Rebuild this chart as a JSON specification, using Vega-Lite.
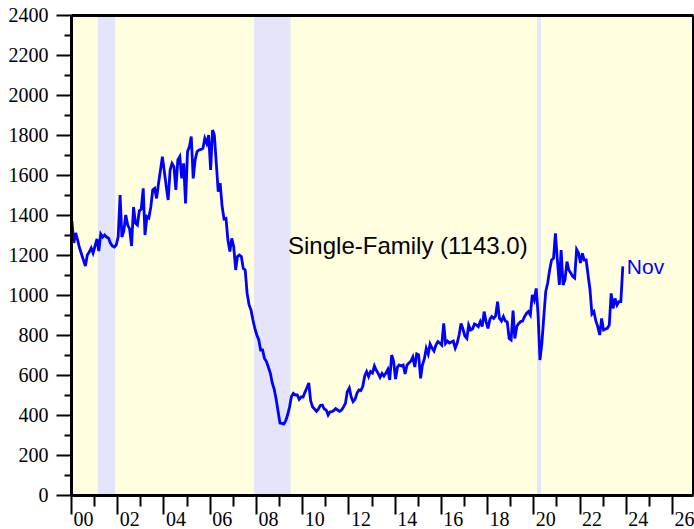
{
"$schema": "https://vega.github.io/schema/vega-lite/v6.json",
"width": 622, "height": 480, "autosize": "none",
"padding": {"left": 71, "top": 15, "right": 1, "bottom": 34},
"background": "white",
"config": {"view": {"stroke": null, "fill": "#FFFFE0"}},
"datasets": {
"recessions": [
{"start": "2001-03-01", "end": "2001-11-30"},
{"start": "2007-12-01", "end": "2009-06-30"},
{"start": "2020-03-01", "end": "2020-04-30"}
],
"starts": [
{"date":"2000-01-15","value":1370},{"date":"2000-02-15","value":1260},{"date":"2000-03-15","value":1310},{"date":"2000-04-15","value":1275},{"date":"2000-05-15","value":1235},{"date":"2000-06-15","value":1205},{"date":"2000-07-15","value":1175},{"date":"2000-08-15","value":1145},{"date":"2000-09-15","value":1200},{"date":"2000-10-15","value":1215},{"date":"2000-11-15","value":1235},{"date":"2000-12-15","value":1210},
{"date":"2001-01-15","value":1245},{"date":"2001-02-15","value":1280},{"date":"2001-03-15","value":1220},{"date":"2001-04-15","value":1305},{"date":"2001-05-15","value":1290},{"date":"2001-06-15","value":1300},{"date":"2001-07-15","value":1290},{"date":"2001-08-15","value":1285},{"date":"2001-09-15","value":1260},{"date":"2001-10-15","value":1245},{"date":"2001-11-15","value":1240},{"date":"2001-12-15","value":1250},
{"date":"2002-01-15","value":1290},{"date":"2002-02-15","value":1500},{"date":"2002-03-15","value":1290},{"date":"2002-04-15","value":1320},{"date":"2002-05-15","value":1400},{"date":"2002-06-15","value":1350},{"date":"2002-07-15","value":1330},{"date":"2002-08-15","value":1245},{"date":"2002-09-15","value":1440},{"date":"2002-10-15","value":1360},{"date":"2002-11-15","value":1350},{"date":"2002-12-15","value":1420},
{"date":"2003-01-15","value":1430},{"date":"2003-02-15","value":1533},{"date":"2003-03-15","value":1300},{"date":"2003-04-15","value":1392},{"date":"2003-05-15","value":1385},{"date":"2003-06-15","value":1440},{"date":"2003-07-15","value":1525},{"date":"2003-08-15","value":1533},{"date":"2003-09-15","value":1483},{"date":"2003-10-15","value":1558},{"date":"2003-11-15","value":1625},{"date":"2003-12-15","value":1692},
{"date":"2004-01-15","value":1617},{"date":"2004-02-15","value":1540},{"date":"2004-03-15","value":1475},{"date":"2004-04-15","value":1625},{"date":"2004-05-15","value":1658},{"date":"2004-06-15","value":1642},{"date":"2004-07-15","value":1525},{"date":"2004-08-15","value":1675},{"date":"2004-09-15","value":1692},{"date":"2004-10-15","value":1583},{"date":"2004-11-15","value":1658},{"date":"2004-12-15","value":1458},
{"date":"2005-01-15","value":1717},{"date":"2005-02-15","value":1742},{"date":"2005-03-15","value":1792},{"date":"2005-04-15","value":1583},{"date":"2005-05-15","value":1675},{"date":"2005-06-15","value":1717},{"date":"2005-07-15","value":1725},{"date":"2005-08-15","value":1728},{"date":"2005-09-15","value":1733},{"date":"2005-10-15","value":1783},{"date":"2005-11-15","value":1758},{"date":"2005-12-15","value":1800},
{"date":"2006-01-15","value":1625},{"date":"2006-02-15","value":1825},{"date":"2006-03-15","value":1800},{"date":"2006-04-15","value":1658},{"date":"2006-05-15","value":1517},{"date":"2006-06-15","value":1560},{"date":"2006-07-15","value":1445},{"date":"2006-08-15","value":1380},{"date":"2006-09-15","value":1383},{"date":"2006-10-15","value":1275},{"date":"2006-11-15","value":1217},{"date":"2006-12-15","value":1283},
{"date":"2007-01-15","value":1242},{"date":"2007-02-15","value":1125},{"date":"2007-03-15","value":1192},{"date":"2007-04-15","value":1200},{"date":"2007-05-15","value":1192},{"date":"2007-06-15","value":1133},{"date":"2007-07-15","value":1125},{"date":"2007-08-15","value":1008},{"date":"2007-09-15","value":950},{"date":"2007-10-15","value":925},{"date":"2007-11-15","value":875},{"date":"2007-12-15","value":833},
{"date":"2008-01-15","value":800},{"date":"2008-02-15","value":775},{"date":"2008-03-15","value":725},{"date":"2008-04-15","value":725},{"date":"2008-05-15","value":683},{"date":"2008-06-15","value":667},{"date":"2008-07-15","value":640},{"date":"2008-08-15","value":610},{"date":"2008-09-15","value":560},{"date":"2008-10-15","value":530},{"date":"2008-11-15","value":480},{"date":"2008-12-15","value":420},
{"date":"2009-01-15","value":360},{"date":"2009-02-15","value":358},{"date":"2009-03-15","value":355},{"date":"2009-04-15","value":370},{"date":"2009-05-15","value":400},{"date":"2009-06-15","value":440},{"date":"2009-07-15","value":492},{"date":"2009-08-15","value":508},{"date":"2009-09-15","value":500},{"date":"2009-10-15","value":500},{"date":"2009-11-15","value":478},{"date":"2009-12-15","value":490},
{"date":"2010-01-15","value":490},{"date":"2010-02-15","value":515},{"date":"2010-03-15","value":535},{"date":"2010-04-15","value":560},{"date":"2010-05-15","value":470},{"date":"2010-06-15","value":440},{"date":"2010-07-15","value":430},{"date":"2010-08-15","value":418},{"date":"2010-09-15","value":430},{"date":"2010-10-15","value":448},{"date":"2010-11-15","value":450},{"date":"2010-12-15","value":430},
{"date":"2011-01-15","value":425},{"date":"2011-02-15","value":400},{"date":"2011-03-15","value":415},{"date":"2011-04-15","value":417},{"date":"2011-05-15","value":422},{"date":"2011-06-15","value":432},{"date":"2011-07-15","value":425},{"date":"2011-08-15","value":418},{"date":"2011-09-15","value":425},{"date":"2011-10-15","value":440},{"date":"2011-11-15","value":458},{"date":"2011-12-15","value":517},
{"date":"2012-01-15","value":535},{"date":"2012-02-15","value":490},{"date":"2012-03-15","value":467},{"date":"2012-04-15","value":478},{"date":"2012-05-15","value":508},{"date":"2012-06-15","value":525},{"date":"2012-07-15","value":522},{"date":"2012-08-15","value":542},{"date":"2012-09-15","value":595},{"date":"2012-10-15","value":617},{"date":"2012-11-15","value":592},{"date":"2012-12-15","value":617},
{"date":"2013-01-15","value":610},{"date":"2013-02-15","value":645},{"date":"2013-03-15","value":625},{"date":"2013-04-15","value":608},{"date":"2013-05-15","value":588},{"date":"2013-06-15","value":608},{"date":"2013-07-15","value":595},{"date":"2013-08-15","value":610},{"date":"2013-09-15","value":628},{"date":"2013-10-15","value":575},{"date":"2013-11-15","value":700},{"date":"2013-12-15","value":670},
{"date":"2014-01-15","value":580},{"date":"2014-02-15","value":640},{"date":"2014-03-15","value":650},{"date":"2014-04-15","value":645},{"date":"2014-05-15","value":650},{"date":"2014-06-15","value":605},{"date":"2014-07-15","value":650},{"date":"2014-08-15","value":660},{"date":"2014-09-15","value":670},{"date":"2014-10-15","value":690},{"date":"2014-11-15","value":640},{"date":"2014-12-15","value":705},
{"date":"2015-01-15","value":700},{"date":"2015-02-15","value":583},{"date":"2015-03-15","value":650},{"date":"2015-04-15","value":680},{"date":"2015-05-15","value":733},{"date":"2015-06-15","value":705},{"date":"2015-07-15","value":755},{"date":"2015-08-15","value":735},{"date":"2015-09-15","value":720},{"date":"2015-10-15","value":750},{"date":"2015-11-15","value":767},{"date":"2015-12-15","value":760},
{"date":"2016-01-15","value":750},{"date":"2016-02-15","value":858},{"date":"2016-03-15","value":758},{"date":"2016-04-15","value":770},{"date":"2016-05-15","value":760},{"date":"2016-06-15","value":765},{"date":"2016-07-15","value":770},{"date":"2016-08-15","value":735},{"date":"2016-09-15","value":760},{"date":"2016-10-15","value":800},{"date":"2016-11-15","value":858},{"date":"2016-12-15","value":830},
{"date":"2017-01-15","value":795},{"date":"2017-02-15","value":783},{"date":"2017-03-15","value":850},{"date":"2017-04-15","value":825},{"date":"2017-05-15","value":830},{"date":"2017-06-15","value":855},{"date":"2017-07-15","value":850},{"date":"2017-08-15","value":842},{"date":"2017-09-15","value":867},{"date":"2017-10-15","value":842},{"date":"2017-11-15","value":917},{"date":"2017-12-15","value":867},
{"date":"2018-01-15","value":833},{"date":"2018-02-15","value":880},{"date":"2018-03-15","value":892},{"date":"2018-04-15","value":883},{"date":"2018-05-15","value":895},{"date":"2018-06-15","value":967},{"date":"2018-07-15","value":883},{"date":"2018-08-15","value":870},{"date":"2018-09-15","value":892},{"date":"2018-10-15","value":870},{"date":"2018-11-15","value":865},{"date":"2018-12-15","value":783},
{"date":"2019-01-15","value":775},{"date":"2019-02-15","value":922},{"date":"2019-03-15","value":783},{"date":"2019-04-15","value":842},{"date":"2019-05-15","value":858},{"date":"2019-06-15","value":867},{"date":"2019-07-15","value":870},{"date":"2019-08-15","value":892},{"date":"2019-09-15","value":908},{"date":"2019-10-15","value":917},{"date":"2019-11-15","value":900},{"date":"2019-12-15","value":1000},
{"date":"2020-01-15","value":975},{"date":"2020-02-15","value":1033},{"date":"2020-03-15","value":910},{"date":"2020-04-15","value":675},{"date":"2020-05-15","value":758},{"date":"2020-06-15","value":892},{"date":"2020-07-15","value":1017},{"date":"2020-08-15","value":1060},{"date":"2020-09-15","value":1125},{"date":"2020-10-15","value":1175},{"date":"2020-11-15","value":1183},{"date":"2020-12-15","value":1308},
{"date":"2021-01-15","value":1175},{"date":"2021-02-15","value":1050},{"date":"2021-03-15","value":1225},{"date":"2021-04-15","value":1050},{"date":"2021-05-15","value":1075},{"date":"2021-06-15","value":1167},{"date":"2021-07-15","value":1125},{"date":"2021-08-15","value":1110},{"date":"2021-09-15","value":1092},{"date":"2021-10-15","value":1085},{"date":"2021-11-15","value":1228},{"date":"2021-12-15","value":1210},
{"date":"2022-01-15","value":1160},{"date":"2022-02-15","value":1208},{"date":"2022-03-15","value":1175},{"date":"2022-04-15","value":1175},{"date":"2022-05-15","value":1100},{"date":"2022-06-15","value":1025},{"date":"2022-07-15","value":905},{"date":"2022-08-15","value":917},{"date":"2022-09-15","value":870},{"date":"2022-10-15","value":842},{"date":"2022-11-15","value":800},{"date":"2022-12-15","value":883},
{"date":"2023-01-15","value":825},{"date":"2023-02-15","value":830},{"date":"2023-03-15","value":833},{"date":"2023-04-15","value":850},{"date":"2023-05-15","value":1008},{"date":"2023-06-15","value":933},{"date":"2023-07-15","value":983},{"date":"2023-08-15","value":950},{"date":"2023-09-15","value":967},{"date":"2023-10-15","value":967},{"date":"2023-11-15","value":1143}
]
},
"layer": [
{
"data": {"name": "recessions"},
"mark": {"type": "rect", "color": "#E4E4FA"},
"encoding": {
"x": {"field": "start", "type": "temporal",
"scale": {"type": "utc", "domain": [{"year": 2000, "month": 1, "date": 1, "utc": true}, {"year": 2026, "month": 11, "date": 28, "utc": true}], "nice": false},
"axis": {"orient": "top", "labels": false, "ticks": false, "grid": false, "title": null, "domainColor": "black", "domainWidth": 3, "zindex": 2}},
"x2": {"field": "end"},
"y": {"datum": 0, "type": "quantitative", "scale": {"domain": [0, 2400], "nice": false},
"axis": {"orient": "right", "labels": false, "ticks": false, "grid": false, "title": null, "domainColor": "black", "domainWidth": 3, "zindex": 2}},
"y2": {"datum": 2400}
}
},
{
"data": {"name": "starts"},
"mark": {"type": "line", "color": "#0000FF", "strokeWidth": 2.8},
"encoding": {
"x": {"field": "date", "type": "temporal",
"axis": {"orient": "bottom", "title": null, "grid": false, "zindex": 2,
"values": [{"year":2000,"utc":true},{"year":2001,"utc":true},{"year":2002,"utc":true},{"year":2003,"utc":true},{"year":2004,"utc":true},{"year":2005,"utc":true},{"year":2006,"utc":true},{"year":2007,"utc":true},{"year":2008,"utc":true},{"year":2009,"utc":true},{"year":2010,"utc":true},{"year":2011,"utc":true},{"year":2012,"utc":true},{"year":2013,"utc":true},{"year":2014,"utc":true},{"year":2015,"utc":true},{"year":2016,"utc":true},{"year":2017,"utc":true},{"year":2018,"utc":true},{"year":2019,"utc":true},{"year":2020,"utc":true},{"year":2021,"utc":true},{"year":2022,"utc":true},{"year":2023,"utc":true},{"year":2024,"utc":true},{"year":2025,"utc":true},{"year":2026,"utc":true}],
"labelExpr": "utcyear(datum.value) % 2 === 0 ? utcFormat(datum.value, '%y') : ''",
"labelOffset": 12, "labelFlush": false, "labelOverlap": false, "labelBound": false,
"labelFont": "Liberation Serif", "labelFontSize": 20, "labelColor": "black", "labelBaseline": "top", "labelPadding": -5,
"domainColor": "black", "domainWidth": 3,
"tickColor": "black", "tickWidth": 2,
"tickSize": {"condition": {"test": "utcyear(datum.value) % 2 === 0", "value": 19}, "value": 11}}},
"y": {"field": "value", "type": "quantitative",
"axis": {"orient": "left", "title": null, "grid": false, "zindex": 2,
"values": [0,100,200,300,400,500,600,700,800,900,1000,1100,1200,1300,1400,1500,1600,1700,1800,1900,2000,2100,2200,2300,2400],
"format": "d",
"labelExpr": "datum.value % 200 === 0 ? datum.label : ''",
"labelFlush": false, "labelOverlap": false, "labelBound": false,
"labelFont": "Liberation Serif", "labelFontSize": 20, "labelColor": "black", "labelPadding": 8,
"domainColor": "black", "domainWidth": 3,
"tickColor": "black", "tickWidth": 2,
"tickSize": {"condition": {"test": "datum.value % 200 === 0", "value": 15}, "value": 7}}}
}
},
{
"data": {"values": [{"label": "Single-Family (1143.0)"}]},
"mark": {"type": "text", "align": "left", "baseline": "middle", "font": "Liberation Sans", "fontSize": 24, "color": "black"},
"encoding": {
"text": {"field": "label"},
"x": {"datum": {"year": 2009, "month": 5, "date": 22, "utc": true}, "type": "temporal", "axis": null},
"y": {"datum": 1240, "type": "quantitative", "axis": null}
}
},
{
"data": {"name": "starts"},
"transform": [{"filter": "datum.value === 1143"}],
"mark": {"type": "text", "text": "Nov", "align": "left", "baseline": "middle", "dx": 4, "dy": 2, "font": "Liberation Sans", "fontSize": 21, "color": "#0000FF"},
"encoding": {
"x": {"field": "date", "type": "temporal", "axis": null},
"y": {"field": "value", "type": "quantitative", "axis": null}
}
}
],
"resolve": {"axis": {"x": "independent", "y": "independent"}}
}
